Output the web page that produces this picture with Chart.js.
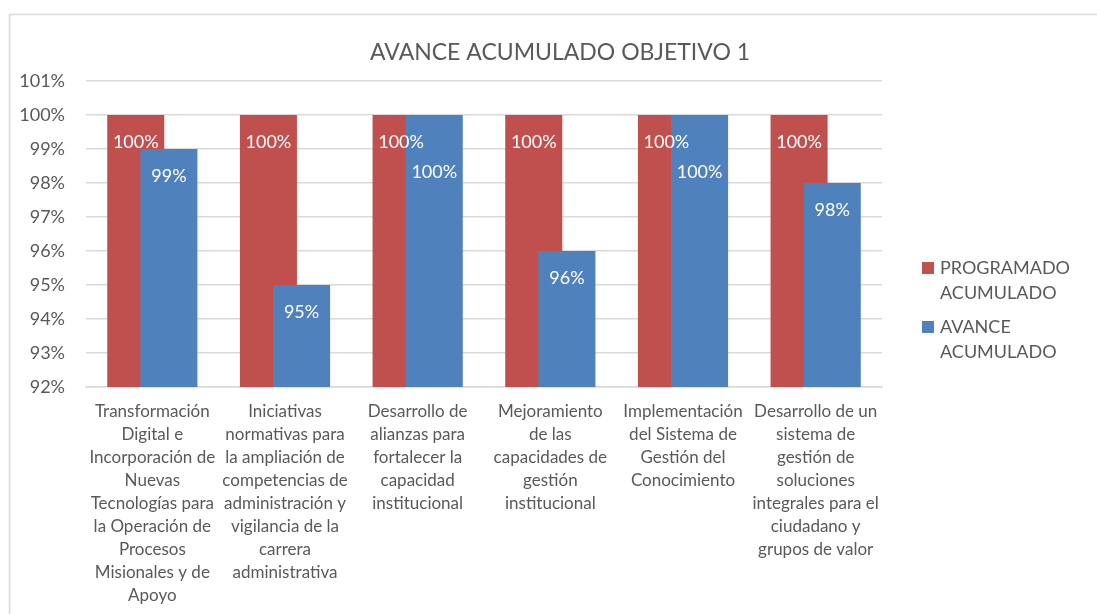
<!DOCTYPE html>
<html>
<head>
<meta charset="utf-8">
<script src="https://cdn.jsdelivr.net/npm/chart.js@4/dist/chart.umd.min.js"></script>
<style>
  body { margin: 0; background: #ffffff; }
  #caja { width: 1097px; height: 614px; }
</style>
</head>
<body>
<div id="caja"><canvas id="avanceChart" width="1097" height="614"></canvas></div>
<script>
// categorias (con los saltos de linea del grafico original)
var categorias = [
  ["Transformación", "Digital e", "Incorporación de", "Nuevas", "Tecnologías para", "la Operación de", "Procesos", "Misionales y de", "Apoyo"],
  ["Iniciativas", "normativas para", "la ampliación de", "competencias de", "administración y", "vigilancia de la", "carrera", "administrativa"],
  ["Desarrollo de", "alianzas para", "fortalecer la", "capacidad", "institucional"],
  ["Mejoramiento", "de las", "capacidades de", "gestión", "institucional"],
  ["Implementación", "del Sistema de", "Gestión del", "Conocimiento"],
  ["Desarrollo de un", "sistema de", "gestión de", "soluciones", "integrales para el", "ciudadano y", "grupos de valor"]
];
var programado = [100, 100, 100, 100, 100, 100];
var avance = [99, 95, 100, 96, 100, 98];
var ticksY = [92, 93, 94, 95, 96, 97, 98, 99, 100, 101];
var titulo = "AVANCE ACUMULADO OBJETIVO 1";

var gris = "#595959";
var fuente = "Lato, 'Liberation Sans', sans-serif";

// barras superpuestas como en excel
var solapar = {
  id: "solapar",
  afterDatasetsUpdate: function (chart) {
    var x = chart.scales.x;
    var paso = x.getPixelForValue(1) - x.getPixelForValue(0);
    chart.data.datasets.forEach(function (ds, i) {
      var meta = chart.getDatasetMeta(i);
      var d = (i === 0 ? -0.125 : 0.125) * paso;
      meta.data.forEach(function (bar) { bar.x += d; });
    });
  }
};

// marco y titulo (centrado en todo el objeto del grafico)
var marco = {
  id: "marco",
  beforeDraw: function (chart) {
    var ctx = chart.ctx;
    ctx.save();
    ctx.strokeStyle = "#D9D9D9";
    ctx.lineWidth = 1.5;
    ctx.strokeRect(9.5, 14.5, 1200, 700);
    ctx.font = "23px " + fuente;
    ctx.fillStyle = gris;
    ctx.textAlign = "center";
    ctx.textBaseline = "middle";
    ctx.fillText(titulo, 560, 53);
    ctx.restore();
  }
};

var etiquetas = {
  id: "etiquetas",
  afterDatasetsDraw: function (chart) {
    var ctx = chart.ctx;
    ctx.save();
    ctx.font = "18px " + fuente;
    ctx.fillStyle = "#ffffff";
    ctx.textAlign = "center";
    ctx.textBaseline = "middle";
    chart.data.datasets.forEach(function (ds, i) {
      var meta = chart.getDatasetMeta(i);
      meta.data.forEach(function (bar, j) {
        var dy = 27;
        if (i === 1 && ds.data[j] === chart.data.datasets[0].data[j]) dy = 57;
        ctx.fillText(ds.data[j] + "%", bar.x, bar.y + dy);
      });
    });
    ctx.restore();
  }
};

var leyenda = {
  id: "leyenda",
  afterDraw: function (chart) {
    var ctx = chart.ctx;
    var a = chart.chartArea;
    var lh = 25, sep = 9;
    var total = 0;
    chart.data.datasets.forEach(function (ds) { total += ds.label.length * lh + sep; });
    total -= sep;
    var y = chart.height / 2 - total / 2 + 3;
    ctx.save();
    ctx.font = "18px " + fuente;
    ctx.textBaseline = "middle";
    ctx.textAlign = "left";
    chart.data.datasets.forEach(function (ds) {
      ctx.fillStyle = ds.backgroundColor;
      ctx.fillRect(a.right + 40, y + lh / 2 - 6, 12, 12);
      ctx.fillStyle = gris;
      ds.label.forEach(function (t, k) {
        ctx.fillText(t, a.right + 58, y + lh / 2 + k * lh);
      });
      y += ds.label.length * lh + sep;
    });
    ctx.restore();
  }
};

var ctx = document.getElementById("avanceChart");

var myBarChart = new Chart(ctx, {
  type: "bar",
  data: {
    labels: categorias,
    datasets: [
      {
        label: ["PROGRAMADO", "ACUMULADO"],
        data: programado,
        backgroundColor: "#C0504D",
        order: 1,
      },
      {
        label: ["AVANCE", "ACUMULADO"],
        data: avance,
        backgroundColor: "#4F81BD",
        order: 0,
      },
    ],
  },
  options: {
    responsive: false,
    animation: false,
    layout: { padding: { left: 0, right: 215, top: 81, bottom: 0 } },
    datasets: {
      bar: { grouped: false, categoryPercentage: 1, barPercentage: 0.43 },
    },
    plugins: {
      legend: { display: false },
      tooltip: { enabled: false },
      title: { display: false },
    },
    scales: {
      x: {
        grid: { display: false, drawTicks: false },
        border: { color: "#D9D9D9", width: 1.5 },
        ticks: {
          color: gris,
          font: { family: fuente, size: 17, lineHeight: 1.35 },
          padding: 13,
          maxRotation: 0,
          autoSkip: false,
        },
        afterFit: function (s) { s.height = 614 - 387; },
      },
      y: {
        min: 92,
        max: 101,
        afterBuildTicks: function (s) {
          s.ticks = ticksY.map(function (v) { return { value: v }; });
        },
        grid: { color: "#D9D9D9", lineWidth: 1.5, drawTicks: false },
        border: { display: false },
        ticks: {
          color: gris,
          font: { family: fuente, size: 18 },
          padding: 21,
          callback: function (v) { return v + "%"; },
        },
        afterFit: function (s) { s.width = 86; },
      },
    },
  },
  plugins: [solapar, marco, etiquetas, leyenda],
});
</script>
</body>
</html>
